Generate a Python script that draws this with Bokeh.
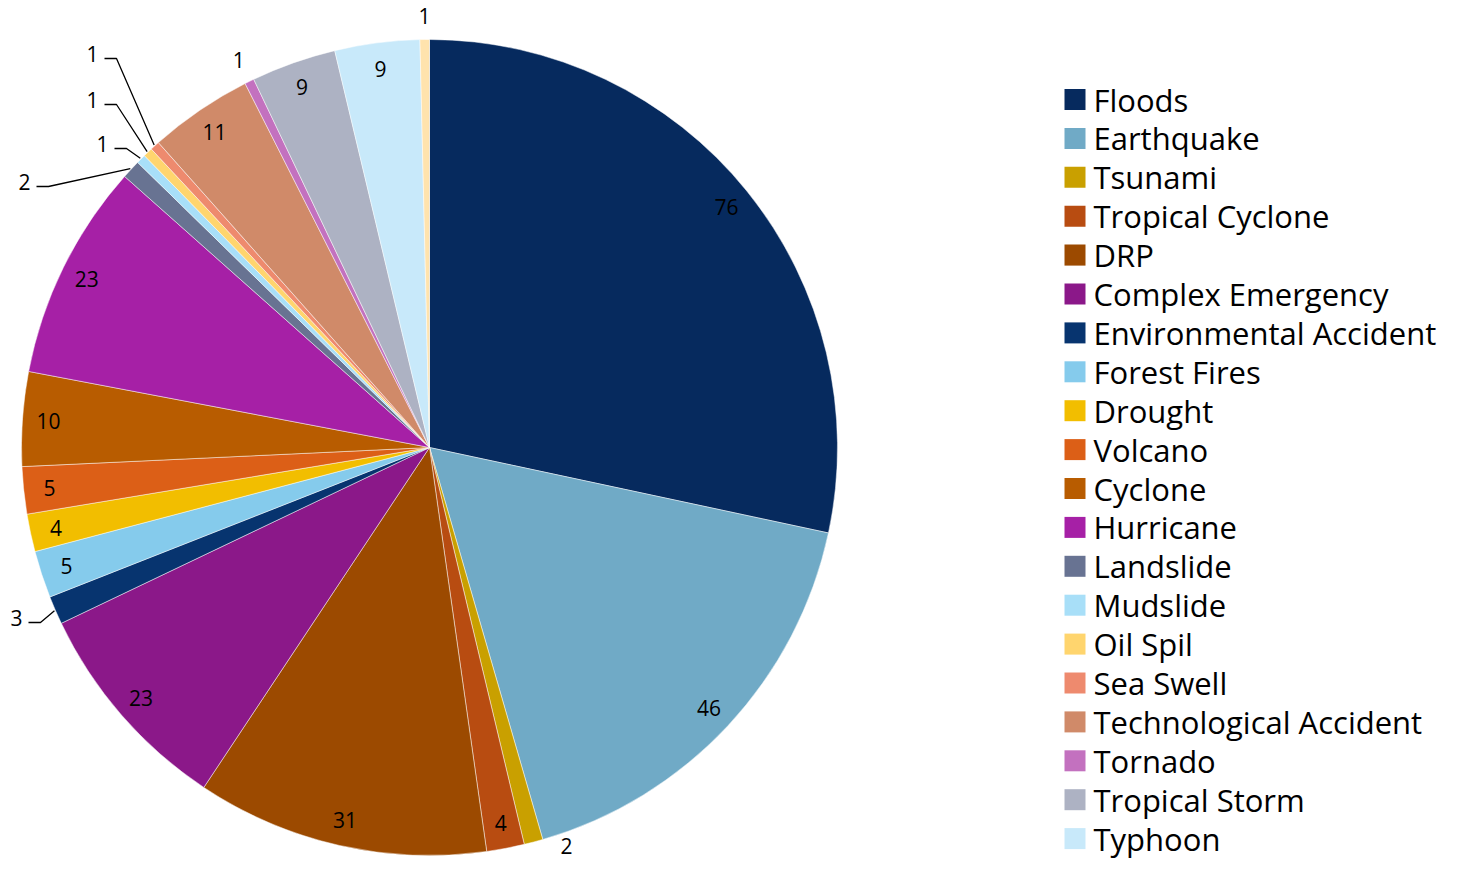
import math
from bokeh.plotting import figure
from bokeh.models import Range1d, ColumnDataSource
from bokeh.core.properties import value
from bokeh.embed import file_html
from bokeh.resources import INLINE

# ---------------- data ----------------
categories = [
    "Floods", "Earthquake", "Tsunami", "Tropical Cyclone", "DRP",
    "Complex Emergency", "Environmental Accident", "Forest Fires", "Drought",
    "Volcano", "Cyclone", "Hurricane", "Landslide", "Mudslide", "Oil Spil",
    "Sea Swell", "Technological Accident", "Tornado", "Tropical Storm",
    "Typhoon", "(legend entry not visible)",
]
values = [76, 46, 2, 4, 31, 23, 3, 5, 4, 5, 10, 23, 2, 1, 1, 1, 11, 1, 9, 9, 1]
legend_count = 20  # the reference legend shows the first 20 entries

# ---------------- styles ----------------
colors = [
    "#062A5E", "#70AAC6", "#C9A000", "#B84C11", "#9C4A00",
    "#8B1889", "#07346F", "#85CBEC", "#F2BE00", "#DC5F17",
    "#B85C00", "#A620A6", "#687392", "#A8DFF8", "#FFD56E",
    "#EE8A6E", "#D08A69", "#C371BF", "#ADB2C3", "#C8E9FA",
    "#FFE3AD",
]

FONT = value("Open Sans")
PAGE_H = 875
W, H = 1446, 859

def sy(y):
    return PAGE_H - y

p = figure(width=W, height=H, x_range=Range1d(0, W), y_range=Range1d(PAGE_H - H, PAGE_H),
           output_backend="svg", toolbar_location=None, min_border=0)
p.axis.visible = False
p.grid.visible = False
p.outline_line_color = None
p.background_fill_color = "white"
p.border_fill_color = "white"

cx, cy = 429, sy(447)
R = 408
total = float(sum(values))

starts, ends, mids = [], [], []
cum = 0.0
for v in values:
    a0 = math.pi / 2 - 2 * math.pi * cum / total
    cum += v
    a1 = math.pi / 2 - 2 * math.pi * cum / total
    starts.append(a1)
    ends.append(a0)
    mids.append((a0 + a1) / 2)

src = ColumnDataSource(dict(start=starts, end=ends, color=colors, cat=categories, val=values))
p.wedge(x=cx, y=cy, radius=R, start_angle="start", end_angle="end",
        fill_color="color", line_color="white", line_width=0.6, line_alpha=0.8, source=src)

# ---------------- data labels ----------------
leader_pos = {  # label centres (page px) for labels with leader lines
    "Environmental Accident": (16, 617),
    "Landslide": (24, 181),
    "Mudslide": (102, 143),
    "Oil Spil": (92, 99),
    "Sea Swell": (92, 53),
}
free_pos = {"Tsunami": (566, 845)}  # outside label without leader line
outside = {"Tornado", "(legend entry not visible)"}

lx, ly, lt = [], [], []
line_xs, line_ys = [], []
for cat, v, m in zip(categories, values, mids):
    if cat in leader_pos:
        px, py = leader_pos[cat]
        lx.append(px)
        ly.append(sy(py))
        ex = cx + (R + 1) * math.cos(m)
        ey = cy + (R + 1) * math.sin(m)
        line_xs.append([px + 12, px + 24, ex])
        line_ys.append([sy(py + 5), sy(py + 5), ey])
    elif cat in free_pos:
        px, py = free_pos[cat]
        lx.append(px)
        ly.append(sy(py))
    elif cat in outside:
        lx.append(cx + 432 * math.cos(m))
        ly.append(cy + 432 * math.sin(m))
    else:
        lx.append(cx + 382 * math.cos(m))
        ly.append(cy + 382 * math.sin(m))
    lt.append(str(v))

p.multi_line(xs=line_xs, ys=line_ys, line_color="black", line_width=1.3)
p.text(x=lx, y=ly, text=lt, text_font=FONT, text_font_size="21px",
       text_align="center", text_baseline="middle", text_color="black")

# ---------------- legend ----------------
leg_x, leg_y0, leg_dy = 1074.5, 99, 38.9
sq_x = [leg_x] * legend_count
sq_y = [sy(leg_y0 + i * leg_dy) for i in range(legend_count)]
p.scatter(x=sq_x, y=sq_y, marker="square", size=21, fill_color=colors[:legend_count],
          line_color=None)
p.text(x=[leg_x + 18.5] * legend_count, y=sq_y, text=categories[:legend_count],
       text_font=FONT, text_font_size="31px", text_align="left",
       text_baseline="middle", text_color="black")

open("out.html", "w").write(file_html(p, INLINE))
